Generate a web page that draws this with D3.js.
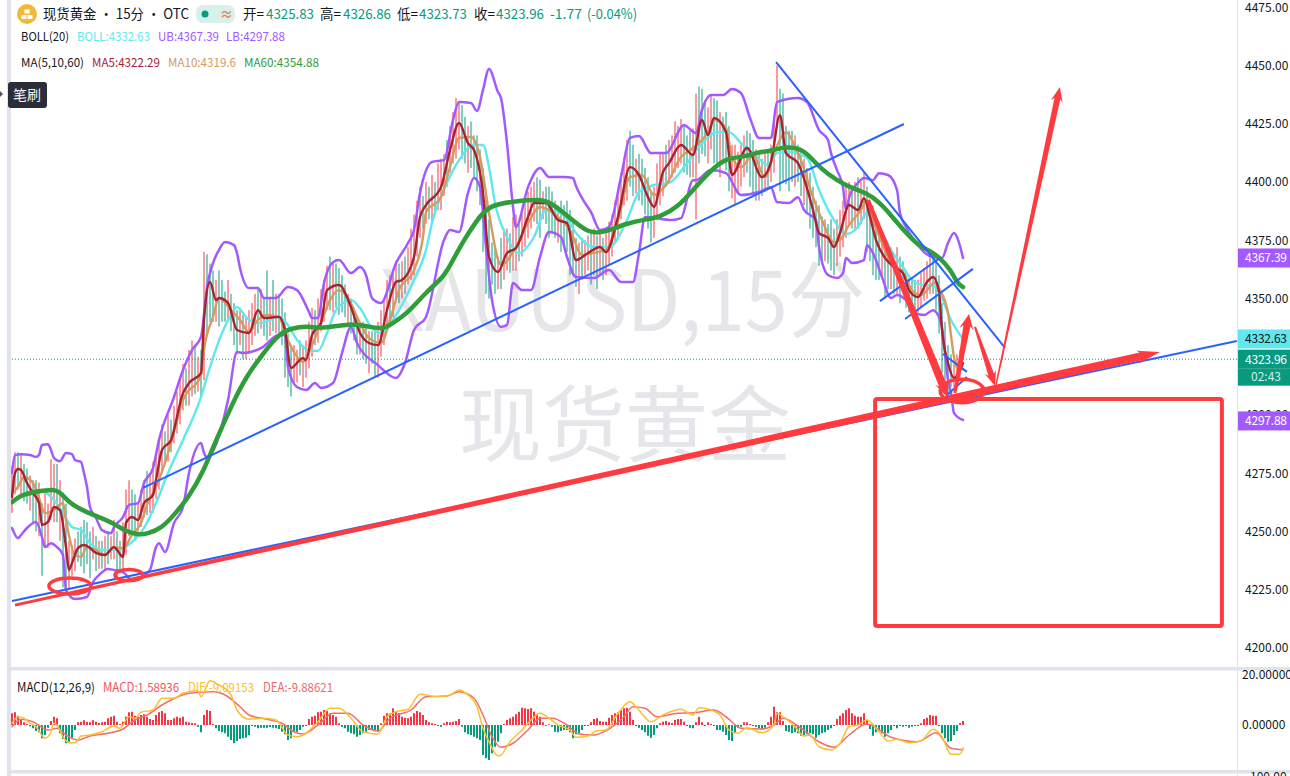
<!DOCTYPE html>
<html><head><meta charset="utf-8">
<style>html,body{margin:0;padding:0;background:#fff;overflow:hidden}svg{display:block}text{font-family:"Noto Sans CJK SC","Noto Sans",sans-serif}</style>
<script src="https://cdnjs.cloudflare.com/ajax/libs/d3/7.8.5/d3.min.js"></script>
</head><body><svg id="c" width="1290" height="776"></svg>
<script>
// ---------- data ----------
const priceTicks=[4475,4450,4425,4400,4375,4350,4300,4275,4250,4225,4200];
const macdTicks=[20,0];
const candleHigh=[4278,4284,4284,4283,4279,4277,4274,4272,4272,4271,
4262,4268,4262,4281,4279,4279,4272,4266,4262,4246,
4244,4247,4250,4252,4255,4254,4250,4252,4248,4246,
4246,4248,4250,4248,4255,4250,4246,4254,4268,4272,
4268,4266,4262,4268,4272,4276,4275,4280,4282,4290,
4296,4293,4300,4298,4304,4310,4316,4322,4320,4328,
4332,4330,4325,4328,4370,4369,4365,4362,4358,4362,
4358,4353,4358,4352,4348,4345,4345,4343,4342,4345,
4348,4352,4354,4354,4350,4362,4350,4358,4352,4352,
4350,4344,4335,4330,4330,4328,4332,4330,4332,4340,
4346,4345,4350,4354,4358,4364,4368,4366,4365,4363,
4360,4356,4352,4350,4346,4342,4340,4340,4338,4336,
4336,4338,4340,4345,4350,4358,4360,4362,4366,4365,
4366,4368,4372,4380,4386,4392,4398,4394,4400,4398,
4403,4400,4408,4410,4412,4418,4424,4430,4436,4434,
4433,4428,4424,4426,4420,4420,4414,4406,4396,4384,
4374,4372,4368,4376,4380,4380,4378,4385,4386,4382,
4386,4392,4396,4398,4400,4402,4401,4396,4398,4398,
4396,4392,4390,4392,4390,4392,4388,4384,4376,4374,
4376,4375,4377,4378,4380,4377,4379,4376,4378,4383,
4386,4392,4394,4404,4410,4418,4422,4416,4410,4412,
4410,4406,4402,4396,4398,4408,4412,4412,4416,4418,
4420,4426,4424,4427,4425,4420,4422,4423,4438,4441,
4440,4435,4432,4437,4436,4435,4430,4428,4430,4424,
4416,4416,4413,4416,4420,4422,4421,4418,4414,4412,
4410,4412,4413,4416,4428,4450,4440,4438,4424,4422,
4422,4420,4416,4414,4410,4406,4404,4398,4392,4390,
4385,4384,4382,4384,4380,4384,4388,4392,4398,4400,
4398,4400,4402,4400,4404,4398,4392,4390,4386,4380,
4378,4374,4374,4372,4366,4372,4368,4366,4362,4360,
4359,4358,4358,4361,4363,4366,4368,4369,4366,4360,
4348,4340,4330,4326,4322,4326,4328,4326.9];
const candleLow=[4258,4266,4268,4266,4263,4262,4259,4254,4250,4248,
4231,4243,4243,4255,4254,4254,4246,4226,4224,4225,
4231,4233,4237,4235,4232,4236,4230,4238,4233,4234,
4234,4233,4236,4238,4238,4229,4232,4232,4240,4248,
4248,4246,4250,4252,4256,4257,4258,4258,4264,4268,
4275,4279,4280,4284,4288,4292,4296,4302,4304,4304,
4308,4309,4310,4308,4315,4335,4340,4340,4340,4338,
4340,4340,4340,4336,4330,4326,4330,4324,4324,4327,
4330,4334,4335,4337,4334,4332,4334,4336,4335,4333,
4330,4316,4312,4308,4314,4314,4317,4312,4316,4320,
4325,4330,4331,4336,4340,4345,4345,4344,4346,4343,
4344,4342,4338,4335,4332,4326,4326,4324,4322,4318,
4322,4316,4316,4325,4330,4336,4340,4342,4350,4348,
4350,4352,4356,4358,4360,4368,4376,4380,4382,4384,
4383,4386,4388,4388,4394,4398,4404,4408,4410,4414,
4410,4408,4404,4406,4402,4396,4390,4370,4352,4350,
4356,4352,4354,4354,4358,4362,4361,4362,4362,4366,
4368,4372,4376,4380,4383,4382,4376,4384,4382,4376,
4378,4376,4374,4370,4372,4370,4360,4360,4355,4352,
4358,4360,4362,4356,4360,4354,4360,4358,4360,4364,
4368,4374,4376,4384,4390,4392,4398,4394,4395,4392,
4390,4386,4380,4374,4376,4384,4390,4394,4398,4400,
4402,4404,4406,4408,4404,4403,4402,4402,4384,4408,
4412,4411,4408,4414,4408,4406,4402,4410,4405,4396,
4393,4390,4396,4398,4402,4404,4398,4394,4392,4392,
4394,4396,4398,4400,4404,4424,4396,4400,4399,4396,
4400,4398,4400,4394,4390,4387,4380,4376,4372,4364,
4366,4366,4365,4362,4360,4364,4368,4372,4376,4382,
4380,4380,4380,4382,4384,4370,4366,4360,4358,4358,
4360,4350,4354,4354,4352,4352,4348,4354,4346,4344,
4346,4344,4344,4346,4349,4350,4352,4352,4345,4335,
4318,4310,4308,4312,4312,4314,4316,4323.7];
const candleUp=[1,1,0,1,0,0,1,0,0,1, 0,1,1,1,1,0,1,0,0,1, 1,1,0,0,0,0,0,1,0,1, 0,1,0,1,1,0,0,1,1,1,
0,0,1,1,1,0,1,1,1,1, 1,0,1,0,1,1,1,1,0,1, 1,0,1,0,1,0,0,0,1,0, 0,0,1,0,0,0,1,0,1,1,
1,1,0,1,0,0,1,0,1,0, 0,0,0,0,1,1,0,1,1,1, 1,0,1,1,1,1,0,1,0,0, 0,0,1,0,0,0,1,0,0,1,
0,0,1,1,1,1,0,1,1,0, 1,0,1,1,1,1,1,0,1,0, 1,0,1,1,1,0,1,1,1,1, 0,0,1,0,0,0,0,0,0,0,
0,0,1,0,1,1,0,1,1,0, 1,1,1,1,1,0,0,1,0,0, 0,0,1,0,0,0,0,0,0,1, 0,1,1,0,1,0,1,0,1,1,
1,1,1,1,1,1,0,0,1,0, 0,0,0,0,1,1,1,1,0,1, 1,1,1,1,0,0,0,1,1,0, 0,0,1,1,0,0,1,0,0,0,
1,1,1,1,1,0,0,0,0,1, 0,1,0,1,1,1,0,0,0,0, 0,1,0,0,1,0,0,0,0,0, 0,1,0,0,0,1,1,1,1,1,
0,1,0,1,1,0,0,0,0,0, 1,0,0,1,0,1,0,0,0,0, 0,0,1,1,1,1,1,0,0,0, 0,0,0,0,1,1,1,0];

const ubLine=[[0,4275.1],[1,4282.8],[3,4283.2],[6,4282.8],[8,4282],[9,4282.8],[10,4287.1],[12,4287.5],[13,4285],[14,4281.5],[16,4280.2],[18,4283.7],[20,4283.2],[21,4280.7],[23,4279.8],[24,4275.1],[25,4269.1],[26,4260.5],[28,4255.8],[30,4250.6],[33,4249.3],[34,4251.9],[37,4256.2],[39,4261.4],[42,4262.2],[44,4270.8],[47,4277.2],[49,4289.3],[54,4307.7],[57,4319.3],[60,4327.9],[63,4333.5],[65,4354.9],[67,4365.2],[69,4370.8],[71,4374.2],[74,4372.9],[75,4369.5],[76,4363.1],[79,4354.5],[82,4354.5],[84,4350.2],[88,4350.2],[92,4354.9],[95,4353.6],[99,4344.2],[100,4341.6],[102,4341.6],[104,4356.6],[107,4365.6],[109,4366.5],[113,4360.9],[116,4363.5],[118,4360.1],[120,4350.2],[123,4348.1],[128,4365.2],[132,4373.8],[134,4379.4],[136,4395.3],[140,4408.6],[144,4409.4],[147,4426.6],[149,4434.3],[153,4433.9],[155,4430.5],[157,4439.5],[159,4448.5],[162,4438.6],[163,4436],[165,4416.7],[167,4389.3],[168,4380.7],[172,4397.8],[176,4406],[179,4402.1],[184,4402.1],[187,4401.7],[188,4398.3],[191,4391],[193,4387.1],[196,4379.4],[199,4380.7],[203,4402.1],[206,4418.9],[209,4419.7],[213,4412.4],[218,4412.4],[224,4424.4],[228,4421],[230,4430.9],[233,4437.3],[237,4437.3],[240,4439.9],[243,4438.2],[246,4427.5],[249,4418.9],[253,4418.9],[255,4434.3],[262,4436],[265,4434.3],[269,4422.3],[272,4418],[273,4412.4],[275,4405.1],[277,4397.8],[278,4388],[279,4393.1],[282,4399.6],[284,4401.7],[287,4400.8],[289,4403.8],[292,4403],[295,4396.6],[296,4386.7],[298,4380.7],[300,4376.4],[302,4372.9],[304,4369.9],[307,4367.8],[310,4367.4],[312,4373.8],[314,4378.1],[315,4376.4],[317,4367.39]];
const lbLine=[[0,4251.5],[2,4247.2],[3,4248.5],[5,4251.5],[8,4254.1],[10,4247.6],[11,4243.3],[13,4245],[15,4243.3],[17,4239.9],[18,4224.9],[21,4221],[25,4221.9],[27,4228.3],[29,4231.3],[32,4233.9],[34,4233.5],[37,4232.6],[40,4229.2],[43,4230.5],[46,4233.5],[48,4243.3],[49,4245],[51,4241.2],[54,4253.6],[57,4260.5],[59,4275.1],[63,4288],[64,4283.7],[65,4282],[72,4306.4],[75,4327],[77,4326.6],[83,4328.7],[89,4334.3],[91,4334.3],[92,4320.6],[95,4312],[98,4310.7],[101,4313.7],[103,4311.6],[107,4313.7],[110,4326.6],[113,4337.8],[115,4330.9],[122,4321.4],[128,4315.9],[131,4322.3],[134,4336.5],[138,4342.1],[144,4375.1],[146,4379.4],[149,4378.5],[152,4395.3],[154,4401.7],[156,4397.8],[158,4372.1],[160,4349.3],[163,4337.8],[165,4338.6],[167,4356.6],[170,4353.6],[173,4353.6],[176,4367.8],[179,4378.5],[183,4376.4],[185,4367.8],[188,4359.2],[194,4358.8],[199,4362.2],[203,4357.1],[207,4357.1],[209,4369.5],[211,4385],[220,4383.7],[223,4384.5],[227,4400.8],[228,4400.8],[233,4405.1],[238,4403.8],[243,4394.4],[249,4395.7],[253,4397.8],[255,4391.4],[259,4391],[262,4393.5],[264,4388],[268,4383.7],[269,4372.1],[272,4360.1],[275,4358.8],[277,4360.9],[278,4367.4],[280,4365.2],[284,4366.5],[285,4372.9],[287,4369.5],[290,4359.2],[293,4350.2],[295,4351.5],[298,4349.3],[301,4343.8],[304,4342.9],[307,4345],[309,4342.1],[310,4337.8],[311,4326.6],[312,4315],[313,4309.4],[314,4300.8],[317,4297.88]];
const bollLine=[[0,4262.2],[4,4265.6],[9,4267.8],[14,4263.5],[17,4257.9],[20,4251.9],[23,4250.6],[26,4245],[30,4242.1],[35,4242.1],[40,4245.5],[44,4251.5],[48,4262.2],[52,4275.1],[57,4289.3],[63,4307.7],[66,4320.6],[70,4335.2],[73,4342.9],[75,4346.3],[79,4340.8],[83,4339.5],[89,4342.1],[92,4338.6],[95,4332.2],[99,4327.9],[102,4327.5],[105,4335.2],[108,4345],[113,4349.3],[116,4345.9],[120,4337.3],[123,4335.2],[127,4340.8],[134,4357.9],[138,4370.8],[140,4382.4],[145,4399.6],[149,4409.4],[154,4415.9],[157,4415.9],[159,4406.4],[161,4391],[165,4376.4],[169,4369.5],[174,4376.4],[178,4388],[184,4385.8],[188,4378.1],[194,4372.1],[199,4372.1],[205,4383.7],[209,4395.7],[214,4398.7],[219,4399.6],[225,4408.1],[229,4415],[235,4421.4],[239,4421.4],[243,4416.7],[247,4412.4],[252,4407.3],[255,4412.4],[259,4412.9],[265,4410.3],[269,4396.6],[274,4383.7],[278,4377.7],[282,4380.7],[285,4386.7],[289,4380.7],[293,4370.8],[297,4363.5],[300,4357.9],[304,4355.8],[307,4355.8],[309,4352.8],[313,4340.8],[317,4332.63]];
const ma5Line=[[0,4264.8],[1,4275.1],[2,4276.8],[3,4276.4],[5,4270.8],[7,4266.5],[9,4262.2],[10,4252.8],[12,4254.1],[14,4260.5],[16,4259.2],[18,4243.3],[19,4233.5],[20,4236.5],[22,4242.9],[24,4244.2],[26,4242.9],[28,4240.8],[31,4239.9],[34,4243.3],[35,4242.1],[37,4239.1],[38,4253.6],[40,4256.2],[42,4254.9],[44,4262.2],[47,4265.6],[48,4272.1],[50,4285],[53,4289.3],[57,4309.4],[59,4313.7],[63,4318],[64,4340.8],[66,4357.1],[68,4349.3],[69,4350.2],[72,4348.1],[75,4336.5],[79,4335.2],[82,4345],[84,4341.6],[89,4342.1],[91,4336.5],[93,4320.2],[97,4324.4],[98,4323.6],[100,4334.3],[103,4339.5],[105,4353.6],[109,4355.8],[113,4346.3],[116,4335.2],[119,4330.9],[122,4330],[125,4345],[128,4357.1],[130,4357.9],[134,4367.8],[136,4385],[138,4390.1],[143,4397.8],[146,4413.7],[149,4425.3],[152,4416.7],[154,4413.7],[157,4395.3],[159,4367.8],[162,4361.4],[165,4369.5],[168,4371.7],[172,4385],[174,4391],[178,4391],[182,4383.7],[185,4382.4],[188,4366.5],[192,4369.5],[196,4372.1],[198,4369.9],[202,4385],[206,4406.4],[209,4403],[212,4393.5],[214,4389.3],[217,4404.3],[219,4408.1],[223,4415.9],[227,4411.6],[230,4426.6],[232,4420.2],[234,4427.5],[238,4421.4],[240,4403],[245,4414.6],[250,4402.1],[253,4408.6],[256,4428.7],[258,4412.4],[262,4408.1],[265,4397.4],[267,4388],[269,4378.1],[272,4376],[274,4372.1],[276,4378.1],[279,4390.1],[282,4388],[284,4393.1],[286,4385],[288,4375.1],[291,4367.4],[294,4363.5],[297,4360.9],[299,4353.6],[302,4350.6],[305,4357.1],[307,4359.2],[309,4352.8],[310,4336.5],[312,4322.3],[314,4315.9],[317,4322.29]];
const ma10Line=[[0,4266.5],[2,4269.1],[4,4273.4],[7,4270.8],[9,4264.4],[11,4257.9],[14,4259.2],[17,4262.2],[18,4254.9],[21,4239.9],[23,4239.1],[25,4243.3],[28,4242.1],[31,4239.9],[34,4243.3],[37,4242.9],[40,4248.5],[43,4253.6],[45,4261.4],[48,4269.1],[51,4279.4],[53,4288],[57,4306.4],[63,4317.1],[64,4327.9],[67,4342.1],[69,4350.2],[73,4345],[76,4340.8],[79,4335.6],[82,4340.8],[85,4342.9],[89,4342.1],[91,4335.2],[94,4327],[97,4322.7],[100,4330],[103,4339.5],[106,4349.3],[109,4353.6],[112,4350.2],[116,4339.5],[119,4333],[123,4330.9],[126,4340.8],[129,4353.6],[134,4362.2],[137,4376.4],[138,4387.1],[143,4393.5],[146,4406.4],[149,4418.9],[153,4419.3],[156,4410.7],[159,4386.7],[163,4364.4],[168,4372.1],[172,4382.4],[176,4389.3],[182,4385],[186,4379.4],[190,4368.7],[195,4369.9],[198,4370.8],[202,4383.7],[206,4402.1],[210,4403],[214,4394.4],[218,4398.7],[223,4410.7],[227,4414.6],[232,4421.4],[234,4426.6],[238,4423.2],[240,4410.7],[243,4406.4],[247,4411.6],[251,4402.1],[254,4412.4],[258,4421.4],[260,4418],[263,4409.4],[267,4393.5],[270,4383.7],[274,4374.2],[276,4375.1],[279,4381.5],[283,4388],[285,4392.3],[287,4383.7],[290,4373.8],[293,4365.2],[297,4361.3],[300,4353.6],[303,4351.5],[308,4357.1],[309,4354.5],[312,4343.8],[314,4324.9],[315,4320.2],[317,4319.6]];
const ma60Line=[[0,4262.6],[3,4265.6],[7,4266.9],[10,4267.4],[14,4268.2],[16,4266.9],[19,4262.6],[22,4260.1],[27,4257.1],[34,4253.6],[37,4250.6],[42,4248.5],[45,4248.9],[50,4251.5],[54,4257.1],[59,4264.8],[64,4276.4],[67,4286.2],[74,4306.4],[78,4316.3],[84,4327],[89,4334.7],[93,4337.3],[99,4338.2],[103,4336.9],[113,4339.5],[119,4337.8],[124,4336.9],[127,4339.5],[132,4343.8],[138,4352.8],[144,4359.2],[147,4366.5],[150,4373.8],[155,4383.7],[159,4390.1],[168,4391.8],[176,4392.7],[180,4391],[186,4384.5],[192,4378.1],[197,4378.1],[205,4382.4],[212,4384.1],[216,4385],[222,4389.3],[227,4396.6],[233,4405.1],[238,4410.3],[244,4410.7],[249,4412.9],[253,4413.3],[257,4415],[262,4414.6],[265,4412.4],[270,4405.1],[275,4400.8],[279,4397.8],[285,4395.3],[289,4391.4],[293,4385.8],[298,4378.1],[302,4372.9],[306,4370.4],[309,4367.8],[313,4362.2],[315,4356.6],[317,4354.88]];

const macdHist=[4.7,5.1,3.7,2.4,1.1,.4,-.5,-1.3,-2.4,-2.9,
-5.3,-4,-1.1,1.6,3.3,2.7,-3.3,-5.6,-7.3,-6.7,
-5.1,-2,1.1,1.3,1.9,1.3,1.1,1.9,1.3,.8,
1.1,1.3,2.7,3.3,3.7,1.3,.4,1.3,3.3,5.1,
5.3,3.7,3.3,4,4.3,3.3,2.4,2,4,5.1,
5.6,4.7,2,2,2.7,3.3,2.9,3.3,1.3,1.1,
.8,.7,-.7,-2.9,4,6,5.6,.4,-1.3,-2.4,
-2.9,-3.3,-4.7,-6,-7.3,-6.4,-5.6,-5.3,-5.1,-4,
-.4,-.7,-1.3,-1.1,-1.1,-1.1,-.8,-1.1,-1.3,-1.6,
-2.7,-3.7,-6,-5.3,-2.9,-2.7,-2,-.7,-.4,2.4,
3.3,3.7,5.1,5.3,6,5.6,4.7,4,3.3,.7,
-.7,-1.3,-2.7,-3.3,-3.7,-4.7,-4,-3.3,-2.7,-2,
-1.6,-2,-2.7,.7,3.7,4.7,4.7,6.7,5.6,4.7,
3.3,2.9,2.7,3.3,4.7,5.6,5.1,4,2,1.1,
.7,.4,-.4,-.7,.7,1.3,1.1,1.3,1.6,2.4,
-.7,-2.9,-3.7,-4,-4.7,-5.3,-6,-12,-13.3,-14,
-11.3,-8.7,-6.7,-3.3,.4,2,2.7,3.3,4.3,5.3,
6.9,6.7,6.4,6.7,5.3,4,3.3,1.1,-.4,.3,
-.7,-2.7,-2.9,-2.4,-2,-2,-2.9,-5.3,-3.7,-3.3,
-2,-.4,-.4,1.1,2.4,2.7,1.6,1.3,1.3,2.9,
4,4.7,5.1,6,6.7,6.9,5.3,2,-.4,-1.1,
-2,-2.9,-4.3,-5.1,-4,-1.3,.7,1.3,1.6,1.1,
.8,2,2.4,2.4,1.3,-.4,-1.1,-1.3,1.1,3.3,
1.1,-.4,1.1,.4,-.4,-2,-2,-2.7,-4,-6,
-6.4,-3.3,-1.1,-.7,1.1,1.1,.4,-.4,-.7,-1.3,
-1.6,-1.1,1.1,3.3,7.3,5.1,5.1,1.6,-2.4,-2.7,
-3.3,-2.9,-3.3,-4.3,-4,-3.7,-3.3,-3.7,-5.1,-4,
-3.3,-2.9,-2,-1.3,-.4,2.4,3.7,4.7,6,6.7,
4.7,3.7,3.3,3.3,4.7,2,-1.6,-4.3,-2.9,-2.4,
-3.3,-4.7,-3.3,-2,-.4,-1.3,-.4,-.7,-.4,-1.1,
-.7,-.4,-.4,.7,2.4,2.9,4,3.7,3.7,-.4,
-3.3,-5.3,-6.7,-6.4,-4,-2.4,.7,1.59];
const difLine=[[0,.7],[2,3.3],[4,2.7],[6,.7],[8,-.7],[11,-5.3],[13,-2.7],[14,.7],[15,0],[17,-4.7],[19,-7.1],[21,-7.1],[23,-4.4],[26,-4],[30,-2.7],[34,-.4],[36,-1.3],[39,3.3],[41,2.7],[43,5.1],[47,6],[50,10.7],[54,10.7],[57,12.7],[62,13.7],[63,11.3],[66,17.7],[69,16],[73,12],[75,6],[79,2.3],[84,2.7],[88,2],[92,-4],[95,-4.7],[98,-3.3],[102,1.3],[106,6.7],[109,6.7],[113,2.7],[117,-2.7],[122,-3.6],[125,3.3],[128,5.3],[132,6.3],[136,12.3],[142,11.3],[146,12],[149,14],[152,12],[155,7.3],[157,-1.3],[159,-6.7],[162,-12.4],[163,-12],[166,-6.7],[170,-2],[173,2],[176,4.7],[179,2.7],[182,0],[186,-2],[188,-4.9],[192,-4.4],[195,-2.3],[198,-2],[202,4.7],[206,9.3],[208,7.3],[213,1.3],[217,4],[223,6.3],[227,4],[229,6.9],[233,6],[236,4],[239,-2],[242,-3.3],[245,-1.1],[250,-3.1],[254,0],[255,4.7],[257,3.3],[261,-.7],[264,-4.4],[266,-4],[269,-8.7],[273,-10],[276,-7.3],[279,-.7],[282,0],[285,2],[289,-2.7],[292,-6.4],[295,-5.7],[299,-7.1],[303,-6.3],[307,-1.7],[310,-4.7],[313,-11.7],[316,-11.6],[317,-9.09]];
const deaLine=[[0,-.7],[3,2.3],[7,1.3],[12,-2],[15,-1.3],[18,-4],[22,-6],[26,-4.4],[32,-3.3],[37,-1.6],[41,2],[45,4],[50,8],[53,10],[59,12.7],[67,13.3],[72,11.3],[76,7.3],[79,4],[85,2.3],[90,.7],[94,-2.7],[97,-3.6],[102,0],[107,4.7],[112,4.7],[117,0],[122,-2.4],[126,2.7],[133,6],[138,11.3],[145,11.6],[149,13.3],[154,10.7],[157,4],[160,-4.7],[163,-8.9],[167,-7.3],[172,-2],[176,2.7],[180,2.7],[185,0],[189,-3.6],[194,-4],[198,-2.3],[204,3.3],[207,7.3],[211,6.7],[215,3.3],[222,4.7],[227,4.9],[234,6],[238,3.3],[243,-1.3],[250,-1.6],[254,0],[257,2.7],[263,-1.3],[269,-6.7],[274,-8.9],[279,-4],[285,.4],[293,-4.9],[302,-6.7],[308,-3.1],[313,-9.3],[317,-9.89]];

// drawn trend lines: [[bar,price],[bar,price]]
const blueLines=[
 [[0,4220.2],[408.3,4331.8]],
 [[43.7,4268.7],[297.3,4424.9]],
 [[254.7,4451.5],[331,4328.8]],
 [[289.3,4348.9],[309.3,4367.4]],
 [[297.7,4341.2],[320.3,4362.7]],
 [[310.3,4326.2],[318.3,4318.5]],
 [[311.7,4308.6],[318.3,4316.3]]];
const redArrows=[
 [[1,4218.4],[382.7,4327]],
 [[285.3,4392.3],[312,4307.3]],
 [[314.3,4309.4],[319,4343.3]],
 [[321,4337.8],[327.7,4312.4]],
 [[328,4312.9],[349.3,4440.8]]];
const redBox=[[287.7,4306.9],[403.3,4209.4]];
const redRings=[[19.3,4226.6,7,3.4],[39,4231.3,4.7,2.4],[316.7,4310.3,7.3,5]];

const lastPrice=4323.96;
const priceTags=[["4367.39","#a259ff","#fff"],["4332.63","#5fe8ee","#131722"],["4323.96","#089981","#fff"],["4297.88","#a259ff","#fff"]];
const headerTexts=[["现货黄金 • 15分 • OTC","#131722"],["开=","#131722"],["4325.83","#089981"],["高=","#131722"],["4326.86","#089981"],["低=","#131722"],["4323.73","#089981"],["收=","#131722"],["4323.96","#089981"],["-1.77","#089981"],["(-0.04%)","#089981"]];
const bollTexts=[["BOLL(20)","#131722"],["BOLL:4332.63","#5fe8ee"],["UB:4367.39","#a259ff"],["LB:4297.88","#a259ff"]];
const maTexts=[["MA(5,10,60)","#131722"],["MA5:4322.29","#a8232f"],["MA10:4319.6","#d69a5f"],["MA60:4354.88","#2f9e3a"]];
const macdTexts=[["MACD(12,26,9)","#131722"],["MACD:1.58936","#f0565f"],["DIF:-9.09153","#fbc02d"],["DEA:-9.88621","#ef6a6a"]];

// ---------- layout ----------
const W=1290,H=776,axisX=1238;
const x=d3.scaleLinear().domain([0,317]).range([12,963]);
const y=d3.scaleLinear().domain([4200,4450]).range([648,65.5]);
const ym=d3.scaleLinear().domain([0,20]).range([725,675]);
const svg=d3.select("#c");
const RED="#ff3b3f",BLUE="#2962ff",GREEN="#089981",UPC="#f23645",GRID="#e0e3eb";

// watermark
const wm=svg.append("g").attr("fill","#e6e6ea");
wm.append("text").attr("x",380).attr("y",331).attr("font-size",84).attr("textLength",485).attr("lengthAdjust","spacingAndGlyphs").attr("font-family","'Noto Sans','Noto Sans CJK SC'").text("XAUUSD,15分");
wm.append("text").attr("x",625).attr("y",455).attr("text-anchor","middle").attr("font-size",83).text("现货黄金");

// dotted last price
svg.append("line").attr("x1",12).attr("x2",axisX).attr("y1",y(lastPrice)).attr("y2",y(lastPrice))
  .attr("stroke",GREEN).attr("stroke-width",1).attr("stroke-dasharray","1 2");

// candles
svg.append("g").selectAll("line").data(candleHigh).join("line")
  .attr("x1",(d,i)=>x(i)).attr("x2",(d,i)=>x(i))
  .attr("y1",d=>y(d)).attr("y2",(d,i)=>y(candleLow[i]))
  .attr("stroke",(d,i)=>candleUp[i]?UPC:GREEN).attr("stroke-width",1);

const line=d3.line().x(d=>x(d[0])).y(d=>y(d[1])).curve(d3.curveMonotoneX);
const smooth=d3.line().x(d=>x(d[0])).y(d=>y(d[1])).curve(d3.curveBasis);
function drawLine(data,color,w,gen){svg.append("path").datum(data).attr("d",gen||line).attr("fill","none")
  .attr("stroke",color).attr("stroke-width",w).attr("stroke-linejoin","round").attr("stroke-linecap","round");}
drawLine(bollLine,"#5fe8ee",2.4);
drawLine(ubLine,"#a259ff",2.5);
drawLine(lbLine,"#a259ff",2.5);
drawLine(ma10Line,"#d69a5f",2.4);
drawLine(ma5Line,"#a8232f",2.4);
drawLine(ma60Line,"#2f9e3a",4.5,smooth);

// MACD
svg.append("g").selectAll("rect").data(macdHist).join("rect")
  .attr("x",(d,i)=>x(i)-1).attr("width",2)
  .attr("y",d=>d>0?ym(d):ym(0)).attr("height",d=>Math.abs(ym(d)-ym(0)))
  .attr("fill",d=>d>0?UPC:GREEN);
const mline=d3.line().x(d=>x(d[0])).y(d=>ym(d[1])).curve(d3.curveMonotoneX);
drawLine(deaLine,"#f56c6c",1.5,mline);
drawLine(difLine,"#fbc02d",1.5,mline);

// annotations
svg.append("g").selectAll("line").data(blueLines).join("line")
  .attr("x1",d=>x(d[0][0])).attr("y1",d=>y(d[0][1])).attr("x2",d=>x(d[1][0])).attr("y2",d=>y(d[1][1]))
  .attr("stroke",BLUE).attr("stroke-width",2);
const arrowStyle=[[3,8,20,13],[4,8,14,14],[3,7,12,14],[2,6,12,12],[1.5,6,12,12]];
svg.append("g").selectAll("path").data(redArrows).join("path").attr("fill",RED).attr("d",(d,i)=>{
  const [w0,w1,hl,hw]=arrowStyle[i];
  const ax=x(d[0][0]),ay=y(d[0][1]),bx=x(d[1][0]),by=y(d[1][1]);
  const L=Math.hypot(bx-ax,by-ay),ux=(bx-ax)/L,uy=(by-ay)/L,nx=-uy,ny=ux;
  const cx=bx-ux*hl,cy=by-uy*hl;
  const p=d3.path();
  p.moveTo(ax+nx*w0/2,ay+ny*w0/2);p.lineTo(cx+nx*w1/2,cy+ny*w1/2);p.lineTo(cx+nx*hw/2-ux*3,cy+ny*hw/2-uy*3);p.lineTo(bx,by);
  p.lineTo(cx-nx*hw/2-ux*3,cy-ny*hw/2-uy*3);p.lineTo(cx-nx*w1/2,cy-ny*w1/2);p.lineTo(ax-nx*w0/2,ay-ny*w0/2);p.closePath();
  return p.toString();});
svg.append("rect").attr("x",x(redBox[0][0])).attr("y",y(redBox[0][1]))
  .attr("width",x(redBox[1][0])-x(redBox[0][0])).attr("height",y(redBox[1][1])-y(redBox[0][1]))
  .attr("rx",2).attr("fill","none").attr("stroke",RED).attr("stroke-width",4);
svg.append("g").selectAll("ellipse").data(redRings).join("ellipse")
  .attr("cx",d=>x(d[0])).attr("cy",d=>y(d[1])).attr("rx",d=>x(d[2])-x(0)).attr("ry",d=>y(0)-y(d[3]))
  .attr("fill","none").attr("stroke",RED).attr("stroke-width",3.5);

// frame pieces
svg.append("rect").attr("x",axisX).attr("y",0).attr("width",W-axisX).attr("height",H).attr("fill","#fff");
svg.append("rect").attr("x",7).attr("y",0).attr("width",4).attr("height",H).attr("fill",GRID);
svg.append("rect").attr("x",7).attr("y",667).attr("width",W-7).attr("height",3.5).attr("fill",GRID);
svg.append("rect").attr("x",7).attr("y",770).attr("width",W-7).attr("height",3.5).attr("fill",GRID);
svg.append("rect").attr("x",axisX-1).attr("y",0).attr("width",1).attr("height",H).attr("fill",GRID);

// axes
function styleAxis(g){g.select(".domain").remove();g.selectAll(".tick line").remove();
  g.selectAll("text").attr("font-size",12).attr("fill","#131722").attr("font-family","'Liberation Sans','Noto Sans'");}
svg.append("g").attr("transform",`translate(${axisX},0)`)
  .call(d3.axisRight(y).tickValues(priceTicks).tickSize(0).tickPadding(7).tickFormat(d3.format(".2f"))).call(styleAxis);
svg.append("g").attr("transform",`translate(${axisX},0)`)
  .call(d3.axisRight(ym).tickValues(macdTicks).tickSize(0).tickPadding(4).tickFormat(d3.format(".5f"))).call(styleAxis);
svg.append("text").attr("x",1250).attr("y",781).attr("font-size",12).attr("fill","#131722").attr("font-family","'Liberation Sans'").text("100.00");

// price tags
const tagY=[y(4367.39),y(4332.63),y(4323.96),y(4297.88)+1];
const tg=svg.append("g").selectAll("g").data(priceTags).join("g");
tg.append("rect").attr("x",axisX).attr("y",(d,i)=>tagY[i]-9.5).attr("width",W-axisX).attr("height",19).attr("fill",d=>d[1]);
tg.append("text").attr("x",1245).attr("y",(d,i)=>tagY[i]+4.5).attr("font-size",12).attr("textLength",42).attr("font-family","'Liberation Sans','Noto Sans'").attr("fill",d=>d[2]).text(d=>d[0]);
svg.append("rect").attr("x",axisX).attr("y",tagY[2]+9.5).attr("width",W-axisX).attr("height",17).attr("fill",GREEN);
svg.append("rect").attr("x",axisX).attr("y",tagY[2]+9).attr("width",W-axisX).attr("height",1).attr("fill","#2fa893");
svg.append("text").attr("x",1251).attr("y",tagY[2]+22).attr("font-size",12).attr("font-family","'Liberation Sans'").attr("fill","#cfeee8").text("02:43");

// header
const hx=[43,243,266,320,343,397,419,474,496,550,587],hw=[146,21,48,21,48,21,48,21,48,32,50];
const icon=svg.append("g");
icon.append("circle").attr("cx",27).attr("cy",14).attr("r",10).attr("fill","#f0b93a");
icon.selectAll("rect").data([[21.5,15],[27.5,15],[24.5,9.5]]).join("rect").attr("x",d=>d[0]).attr("y",d=>d[1]).attr("width",5).attr("height",4).attr("fill","#fff");
svg.append("rect").attr("x",196).attr("y",5).attr("width",39).attr("height",18).attr("rx",7).attr("fill","#d8f0ea");
svg.append("circle").attr("cx",205).attr("cy",14).attr("r",3.5).attr("fill",GREEN);
svg.append("text").attr("x",220).attr("y",18.5).attr("font-size",13).attr("font-weight",700).attr("fill","#f0824b").text("≈");
function textRow(rows,xs,ws,yy,fs){svg.append("g").selectAll("text").data(rows).join("text")
  .attr("x",(d,i)=>xs[i]).attr("y",yy).attr("font-size",fs).attr("fill",d=>d[1])
  .attr("textLength",(d,i)=>ws[i]).attr("lengthAdjust","spacingAndGlyphs").text(d=>d[0]);}
textRow(headerTexts,hx,hw,19,14);
textRow(bollTexts,[21,77,158,226],[48,73,61,59],40.5,12);
textRow(maTexts,[21,92,168,244],[63,68,68,75],66.5,12);
textRow(macdTexts,[17,103,188,263],[78,76,66,70],692,12.5);

// brush tooltip
svg.append("path").attr("d","M0 91 L3 94 L0 97 Z").attr("fill","#50535e");
svg.append("rect").attr("x",8).attr("y",82).attr("width",39).attr("height",26).attr("rx",3).attr("fill","#2a2e39");
svg.append("text").attr("x",13).attr("y",100).attr("font-size",14).attr("fill","#f0f3fa").text("笔刷");
</script></body></html>
